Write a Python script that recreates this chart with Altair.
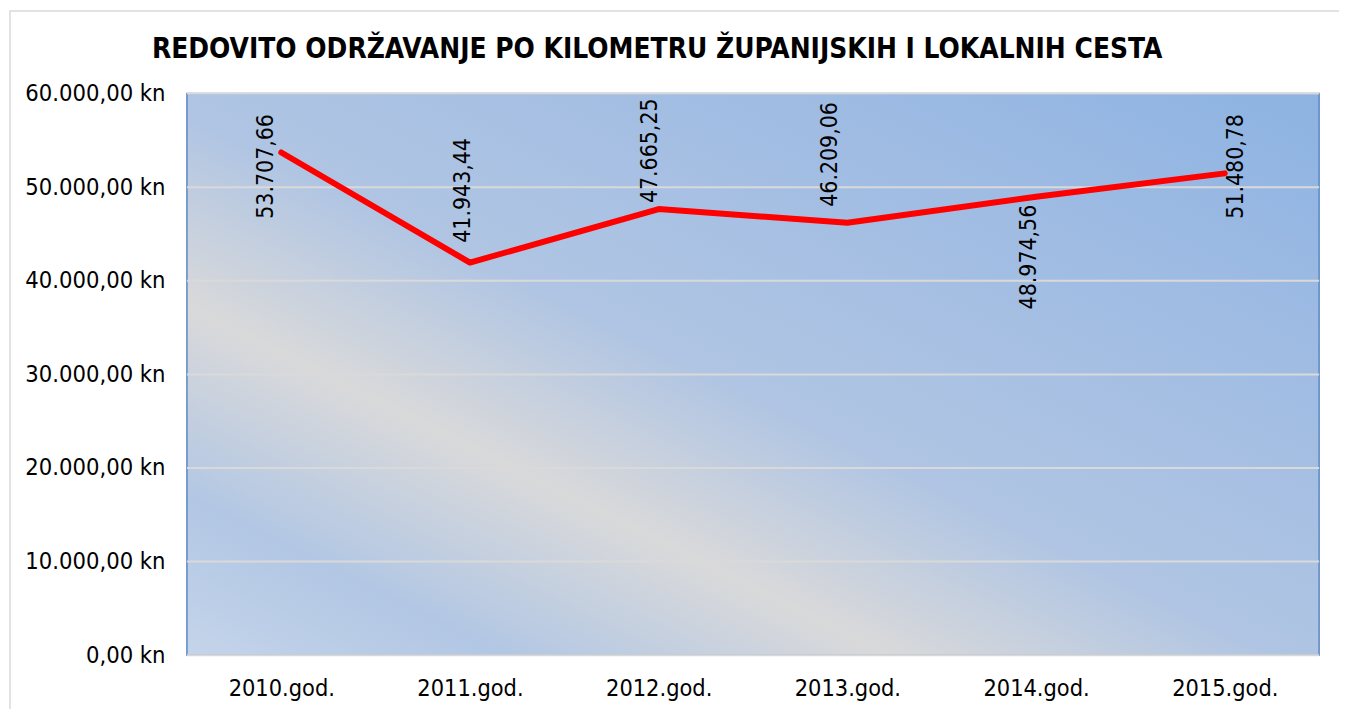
import altair as alt
import pandas as pd

# ---- data ----
years = ["2010.god.", "2011.god.", "2012.god.", "2013.god.", "2014.god.", "2015.god."]
values = [53707.66, 41943.44, 47665.25, 46209.06, 48974.56, 51480.78]
y_ticks = [0, 10000, 20000, 30000, 40000, 50000, 60000]
title_text = "REDOVITO ODRŽAVANJE PO KILOMETRU ŽUPANIJSKIH I LOKALNIH CESTA"

df = pd.DataFrame({"godina": years, "iznos": values})
grid_df = pd.DataFrame({"iznos": y_ticks})

W, H = 1139, 565
FONT = "DejaVu Sans Condensed, DejaVu Sans"

hr_fmt = "replace(replace(replace(format(datum.{f}, ',.2f'), ',', '_'), '.', ','), '_', '.')"

y_scale = alt.Scale(domain=[0, 60000], nice=False)
x_scale = alt.Scale(type="point", padding=0.5)

x_axis = alt.Axis(title=None, labelAngle=0, ticks=False, domain=False, grid=False,
                  labelFont=FONT, labelFontSize=23.5, labelColor="#000000",
                  labelPadding=22, zindex=1)
y_axis = alt.Axis(title=None, values=y_ticks, ticks=False, domain=False, grid=False,
                  labelFont=FONT, labelFontSize=23.7, labelColor="#000000",
                  labelPadding=22, zindex=1,
                  labelExpr=hr_fmt.format(f="value") + " + ' kn'")

x_enc = alt.X("godina:N", sort=years, scale=x_scale, axis=x_axis)
y_enc = alt.Y("iznos:Q", scale=y_scale, axis=y_axis)

one = alt.Data(values=[{"a": 1}])

frame = alt.Chart(one).mark_rect(fill="transparent", stroke="#d9d9d9", strokeWidth=1.5).encode(
    x=alt.value(-178), x2=alt.value(W + 200), y=alt.value(-83), y2=alt.value(H + 200))

title = alt.Chart(one).mark_text(text=title_text, font=FONT, fontSize=28, fontWeight="bold",
                                 color="#000000", align="center", baseline="alphabetic").encode(
    x=alt.value(473), y=alt.value(-36))

gradient = alt.LinearGradient(
    gradient="linear", x1=0, y1=1, x2=1, y2=0,
    stops=[
        alt.GradientStop(offset=0.0, color="#c4d4ea"),
        alt.GradientStop(offset=0.14, color="#b2c7e4"),
        alt.GradientStop(offset=0.31, color="#d9d9da"),
        alt.GradientStop(offset=0.48, color="#b0c5e3"),
        alt.GradientStop(offset=0.75, color="#a0bce3"),
        alt.GradientStop(offset=1.0, color="#8db3e2"),
    ])

bg = alt.Chart(one).mark_rect(fill=gradient, stroke="#5a86c2", strokeWidth=1.5).encode(
    x=alt.value(0), x2=alt.value(W), y=alt.value(0), y2=alt.value(H))

grid = alt.Chart(grid_df).mark_rule(color="#d9d9d9", strokeWidth=2).encode(y=y_enc)

base = alt.Chart(df)
line = base.mark_line(color="#ff0000", strokeWidth=6, strokeCap="round", strokeJoin="round").encode(
    x=x_enc, y=y_enc)

# label placement per year (align, baseline, dx, dy)
place = {
    "2010.god.": ("center", "bottom", -14, -3),
    "2011.god.": ("left", "bottom", 20, 5),
    "2012.god.": ("left", "bottom", 6, 3),
    "2013.god.": ("left", "bottom", 16, -5),
    "2014.god.": ("right", "bottom", -8, 5),
    "2015.god.": ("center", "top", 7, 0),
}
labels = []
for yr, (al, bl, dx, dy) in place.items():
    labels.append(
        base.transform_filter(alt.datum.godina == yr)
        .transform_calculate(lbl=hr_fmt.format(f="iznos"))
        .mark_text(angle=270, align=al, baseline=bl, dx=dx, dy=dy,
                   font=FONT, fontSize=23, color="#000000")
        .encode(x=x_enc, y=y_enc, text="lbl:N")
    )

chart = alt.layer(frame, title, bg, grid, line, *labels).properties(
    width=W, height=H,
    autosize=alt.AutoSizeParams(type="none"),
    padding={"left": 180, "top": 84, "right": 20, "bottom": 52},
).configure(background="white").configure_view(stroke=None)

chart.save("out.html", embed_options={"renderer": "svg", "actions": False})
